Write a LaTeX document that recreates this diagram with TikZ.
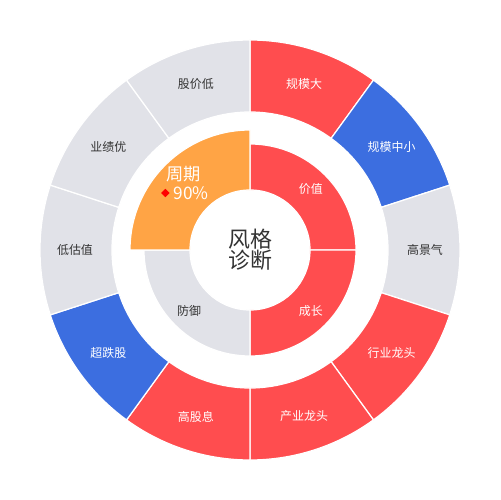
\documentclass[tikz,border=0pt]{standalone}
\usepackage{fontspec}
\setmainfont{Noto Sans CJK SC}
\usetikzlibrary{positioning, shapes.geometric}
\definecolor{styleRed}{HTML}{FF4D4F}
\definecolor{styleBlue}{HTML}{3C6EE0}
\definecolor{styleGray}{HTML}{E1E2E8}
\definecolor{styleOrange}{HTML}{FFA445}
\definecolor{textDark}{HTML}{333333}

\begin{document}
\begin{tikzpicture}[x=0.02cm, y=0.02cm, font=\fontsize{6.8}{8}\selectfont,
    sector/.style={draw=white, line width=0.7pt}]
  \useasboundingbox (-250,-250) rectangle (250,250);
  % outer ring, ten sectors
  \foreach \a/\col/\txt/\tcol [count=\i] in {90/styleRed/规模大/white, 54/styleBlue/规模中小/white,
      18/styleGray/高景气/textDark, -18/styleRed/行业龙头/white, -54/styleRed/产业龙头/white,
      -90/styleRed/高股息/white, -126/styleBlue/超跌股/white, -162/styleGray/低估值/textDark,
      162/styleGray/业绩优/textDark, 126/styleGray/股价低/textDark} {
    \filldraw[sector, fill=\col] (\a:138) arc[start angle=\a, end angle=\a-36, radius=138]
      -- (\a-36:210) arc[start angle=\a-36, end angle=\a, radius=210] -- cycle;
    \node[text=\tcol] (outer\i) at (\a-18:175) {\txt};
  }
  % inner ring
  \filldraw[sector, fill=styleRed] (0:60) -- (0:106) arc[start angle=0, end angle=90, radius=106]
    -- (90:60) arc[start angle=90, end angle=0, radius=60] -- cycle;
  \filldraw[sector, fill=styleRed] (270:60) -- (270:106) arc[start angle=270, end angle=360, radius=106]
    -- (360:60) arc[start angle=360, end angle=270, radius=60] -- cycle;
  \filldraw[sector, fill=styleGray] (180:60) -- (180:106) arc[start angle=180, end angle=270, radius=106]
    -- (270:60) arc[start angle=270, end angle=180, radius=60] -- cycle;
  % highlighted sector sticks out
  \filldraw[sector, fill=styleOrange] (90:60) -- (90:120) arc[start angle=90, end angle=180, radius=120]
    -- (180:60) arc[start angle=180, end angle=90, radius=60] -- cycle;
  \node[text=white] (value) at (45:86) {价值};
  \node[text=white] (growth) at (-45:86) {成长};
  \node[text=textDark] (defence) at (-135:86) {防御};
  \node[text=white, font=\fontsize{9.8}{10}\selectfont] (cycle) at (-66,76) {周期};
  \node[text=white, font=\fontsize{9.8}{10}\selectfont] (pct) at (-59,57) {90\%};
  \node[diamond, fill=red, inner sep=0pt, minimum size=5pt, left=-1.6pt of pct] (mark) {};
  \node[text=textDark, align=center, font=\fontsize{12.5}{11.9}\selectfont] (title) at (0,0) {风格\\诊断};
\end{tikzpicture}
\end{document}
